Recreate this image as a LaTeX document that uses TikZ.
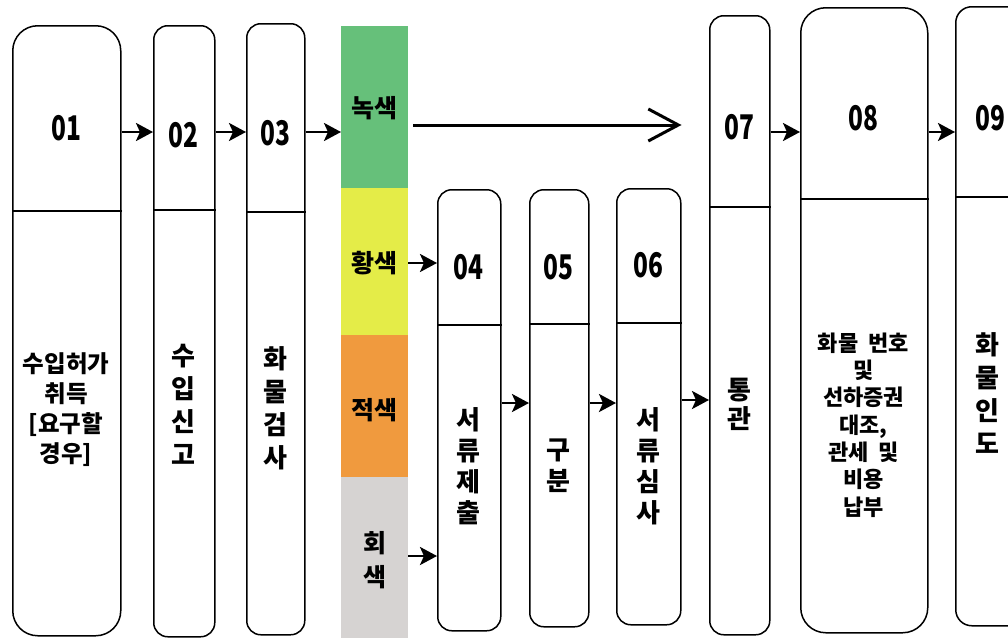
\documentclass[tikz,border=0pt]{standalone}
\usepackage{fontspec}
\usepackage{tikz}
\usetikzlibrary{arrows.meta}
\newfontfamily\kr{Noto Sans CJK KR}
\newcommand{\stepno}[1]{\scalebox{0.72}[1]{#1}}
\definecolor{greenlane}{RGB}{102,192,122}
\definecolor{yellowlane}{RGB}{228,236,72}
\definecolor{orangelane}{RGB}{240,154,62}
\definecolor{greylane}{RGB}{214,211,210}

\tikzset{
  box/.style={draw, line width=1.5pt, rounded corners=14pt, anchor=north west, inner sep=0pt},
  lane/.style={anchor=north west, inner sep=0pt, minimum width=67pt},
  num/.style={font=\kr\bfseries\fontsize{34}{34}\selectfont},
  txt/.style={font=\kr\bfseries\fontsize{26}{33}\selectfont, align=center, inner sep=0pt},
  flow/.style={line width=2.8pt, -{Stealth[length=17pt, width=18pt, inset=4pt]}},
}

\begin{document}
\begin{tikzpicture}[x=1pt, y=-1pt]
\useasboundingbox (0,0) rectangle (1008,637);
\clip (0,0) rectangle (1008,637);
\fill[white] (0,0) rectangle (1008,637);

    % step boxes
\node (b1) at (12,25)  [box, rounded corners=25pt, minimum width=108pt, minimum height=610pt] {};
\node (b2) at (153,25) [box, minimum width=61pt, minimum height=611pt] {};
\node (b3) at (246,23) [box, minimum width=58pt, minimum height=611pt] {};
\node (b4) at (437,189) [box, minimum width=63pt, minimum height=441pt] {};
\node (b5) at (529,189) [box, minimum width=59pt, minimum height=437pt] {};
\node (b6) at (616,188) [box, minimum width=64pt, minimum height=436pt] {};
\node (b7) at (709,15)  [box, minimum width=60pt, minimum height=619pt] {};
\node (b8) at (800,7)   [box, rounded corners=25pt, minimum width=127pt, minimum height=625pt] {};
\node (b9) at (955,6)   [box, rounded corners=16pt, minimum width=70pt, minimum height=619pt] {};

\draw[line width=1.5pt] (b1.west |- 0,211) -- (b1.east |- 0,211);
\draw[line width=1.5pt] (b2.west |- 0,210) -- (b2.east |- 0,210);
\draw[line width=1.5pt] (b3.west |- 0,212) -- (b3.east |- 0,212);
\draw[line width=1.5pt] (b4.west |- 0,325) -- (b4.east |- 0,325);
\draw[line width=1.5pt] (b5.west |- 0,324) -- (b5.east |- 0,324);
\draw[line width=1.5pt] (b6.west |- 0,323) -- (b6.east |- 0,323);
\draw[line width=1.5pt] (b7.west |- 0,207) -- (b7.east |- 0,207);
\draw[line width=1.5pt] (b8.west |- 0,199) -- (b8.east |- 0,199);
\draw[line width=1.5pt] (b9.west |- 0,197) -- (b9.east |- 0,197);

    % colour lanes
\node (green)  at (341,26)  [lane, fill=greenlane,  minimum height=162pt] {};
\node (yellow) at (341,188) [lane, fill=yellowlane, minimum height=147pt] {};
\node (orange) at (341,335) [lane, fill=orangelane, minimum height=142pt] {};
\node (grey)   at (341,477) [lane, fill=greylane,   minimum height=162pt] {};

\node (lg) at (374.5,108) [txt, font=\kr\bfseries\fontsize{25}{25}\selectfont] {녹색};
\node (ly) at (374.5,263) [txt, font=\kr\bfseries\fontsize{25}{25}\selectfont] {황색};
\node (lo) at (374.5,410) [txt, font=\kr\bfseries\fontsize{25}{25}\selectfont] {적색};
\node (lr) at (374.5,560) [txt, font=\kr\bfseries\fontsize{25}{34}\selectfont] {회\\색};

    % numbers
\node (n1) at (66,128)    [num] {\stepno{01}};
\node (n2) at (183.5,135) [num] {\stepno{02}};
\node (n3) at (275,133)   [num] {\stepno{03}};
\node (n4) at (468.5,267) [num] {\stepno{04}};
\node (n5) at (558.5,267) [num] {\stepno{05}};
\node (n6) at (648,265)   [num] {\stepno{06}};
\node (n7) at (739,127)   [num] {\stepno{07}};
\node (n8) at (863.5,118) [num] {\stepno{08}};
\node (n9) at (990,118)   [num] {\stepno{09}};

    % texts
\node (t1) at (66,410)    [txt, font=\kr\bfseries\fontsize{23.5}{30}\selectfont] {수입허가\\취득\\{[}요구할\\경우{]}};
\node (t2) at (183.5,404) [txt] {수\\입\\신\\고};
\node (t3) at (275,408)   [txt] {화\\물\\검\\사};
\node (t4) at (468.5,466) [txt, font=\kr\bfseries\fontsize{26}{31}\selectfont] {서\\류\\제\\출};
\node (t5) at (558.5,466) [txt, font=\kr\bfseries\fontsize{26}{31}\selectfont] {구\\분};
\node (t6) at (648,466)   [txt, font=\kr\bfseries\fontsize{26}{31}\selectfont] {서\\류\\심\\사};
\node (t7) at (739,404)   [txt, font=\kr\bfseries\fontsize{26}{29}\selectfont] {통\\관};
\node (t8) at (863.5,425) [txt, font=\kr\bfseries\fontsize{22}{27.3}\selectfont] {화물~~번호\\및\\선하증권\\대조,\\관세~~및\\비용\\납부};
\node (t9) at (987,393)   [txt] {화\\물\\인\\도};

    % connectors
\draw[flow] (b1.east |- 0,132) -- (b2.west |- 0,132);
\draw[flow] (b2.east |- 0,132) -- (b3.west |- 0,132);
\draw[flow] (b3.east |- 0,132) -- (green.west |- 0,132);
\draw[line width=3pt, -{Straight Barb[length=30pt, width=32pt]}] ([xshift=5pt]green.east |- 0,125) -- (b6.east |- 0,125);
\draw[flow] (yellow.east |- 0,263) -- (b4.west |- 0,263);
\draw[flow] (grey.east |- 0,556) -- (b4.west |- 0,556);
\draw[flow] (b4.east |- 0,403) -- (b5.west |- 0,403);
\draw[flow] (b5.east |- 0,403) -- (b6.west |- 0,403);
\draw[flow] (b6.east |- 0,400) -- (b7.west |- 0,400);
\draw[flow] (b7.east |- 0,132) -- (b8.west |- 0,132);
\draw[flow] (b8.east |- 0,132) -- (b9.west |- 0,132);

  \end{tikzpicture}
\end{document}
